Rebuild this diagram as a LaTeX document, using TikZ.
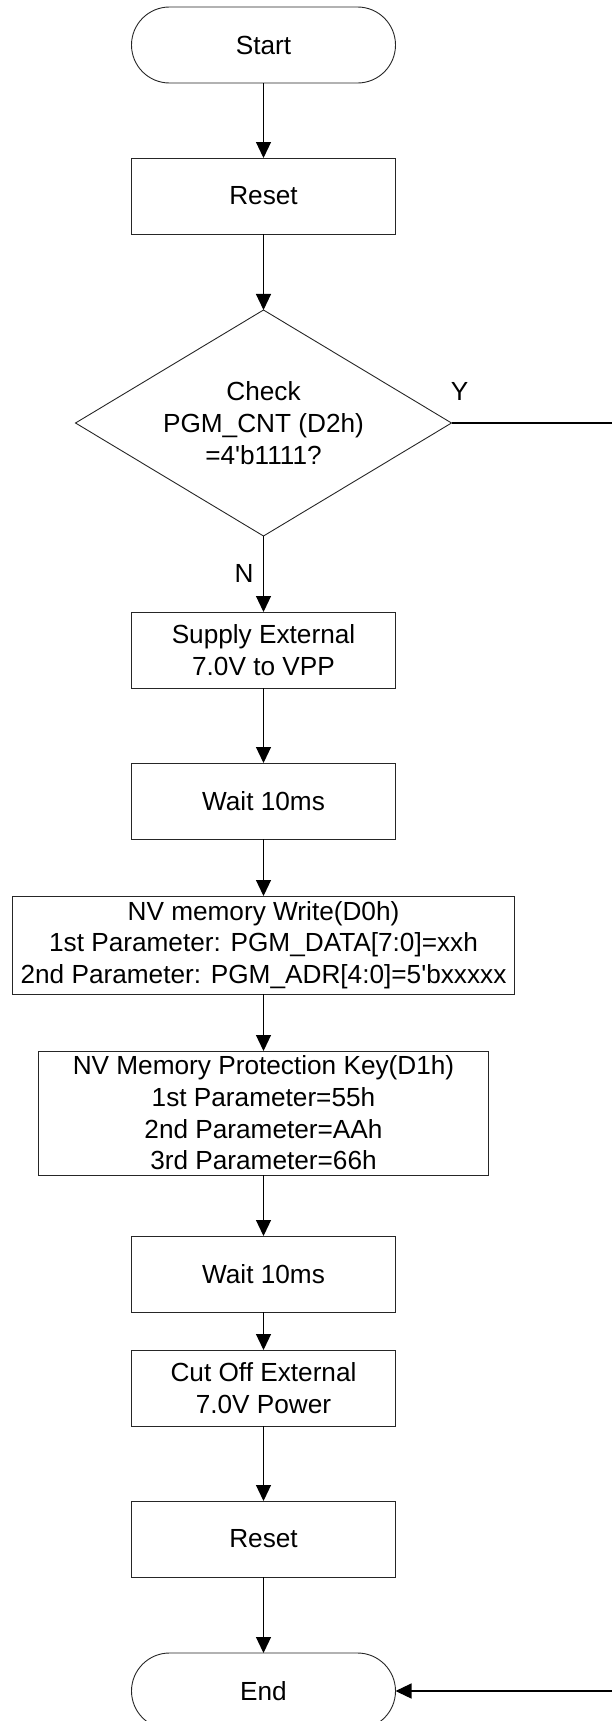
\documentclass[tikz,border=0pt]{standalone}
\usepackage{fontspec}
\newfontfamily\flowfont{Liberation Sans}
\usetikzlibrary{positioning,shapes.geometric,arrows.meta}

\begin{document}
\begin{tikzpicture}[
        x=1pt, y=1pt,
        every node/.style={align=center, outer sep=0pt, font=\flowfont\fontsize{26.2}{31.7}\selectfont},
        terminal/.style={draw=black!85, line width=0.9pt, rounded corners=38pt,
                minimum width=264pt, minimum height=76pt, inner sep=0pt},
        process/.style={draw=black!85, line width=0.9pt,
                minimum width=264pt, minimum height=76pt, inner sep=0pt},
        decision/.style={draw=black!85, line width=0.9pt, diamond, aspect=1.66,
                minimum width=376pt, minimum height=226pt, inner sep=0pt},
        flow/.style={line width=1.2pt, -{Triangle[length=16pt,width=15pt]}}
    ]
    \useasboundingbox (0,0) rectangle (612,-1721);

    \node[terminal] (start) at (263.5,-45) {Start};
    \node[process, below=75pt of start] (reset1) {Reset};
    \node[decision, below=76pt of reset1] (dia) {Check\\PGM\_CNT (D2h)\\=4'b1111?};
    \node[process, below=76pt of dia] (supply) {Supply External\\7.0V to VPP};
    \node[process, below=75pt of supply] (wait1) {Wait 10ms};
    \node[process, below=57pt of wait1, minimum width=502pt, minimum height=98pt] (nvw)
        {NV memory Write(D0h)\\1st Parameter: PGM\_DATA[7:0]=xxh\\2nd Parameter: PGM\_ADR[4:0]=5'bxxxxx};
    \node[process, below=57pt of nvw, minimum width=450pt, minimum height=124pt] (prot)
        {NV Memory Protection Key(D1h)\\1st Parameter=55h\\2nd Parameter=AAh\\3rd Parameter=66h};
    \node[process, below=61pt of prot] (wait2) {Wait 10ms};
    \node[process, below=38pt of wait2] (cutoff) {Cut Off External\\7.0V Power};
    \node[process, below=75pt of cutoff] (reset2) {Reset};
    \node[terminal, below=76pt of reset2] (endn) {End};

    % branch labels
    \node (ylab) at ([shift={(8,32)}]dia.east) {Y};
    \node (nlab) at ([shift={(-19.5,-37)}]dia.south) {N};
    \coordinate (yturn) at ([xshift=190pt]dia.east);

    \draw[flow] (start) -- (reset1);
    \draw[flow] (reset1) -- (dia);
    \draw[flow] (dia) -- (supply);
    \draw[flow] (supply) -- (wait1);
    \draw[flow] (wait1) -- (nvw);
    \draw[flow] (nvw) -- (prot);
    \draw[flow] (prot) -- (wait2);
    \draw[flow] (wait2) -- (cutoff);
    \draw[flow] (cutoff) -- (reset2);
    \draw[flow] (reset2) -- (endn);
    \draw[flow] (dia.east) -- (yturn) |- (endn.east);
\end{tikzpicture}
\end{document}
